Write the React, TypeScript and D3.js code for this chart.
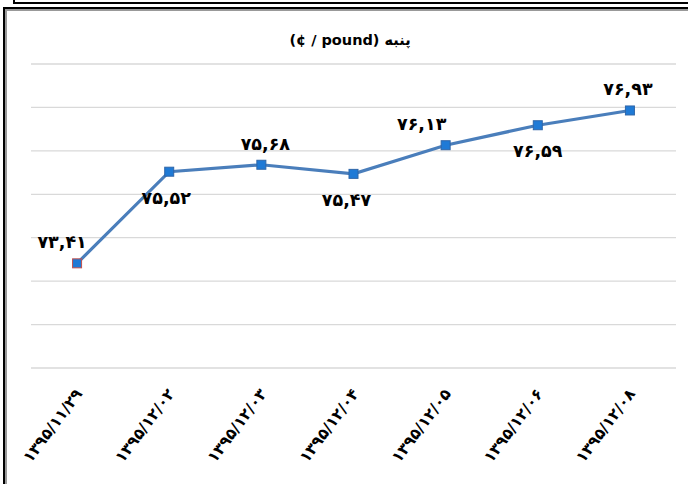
import * as d3 from "d3";

const dates = [
  "۱۳۹۵/۱۱/۲۹",
  "۱۳۹۵/۱۲/۰۲",
  "۱۳۹۵/۱۲/۰۳",
  "۱۳۹۵/۱۲/۰۴",
  "۱۳۹۵/۱۲/۰۵",
  "۱۳۹۵/۱۲/۰۶",
  "۱۳۹۵/۱۲/۰۸",
];
const prices = [73.41, 75.52, 75.68, 75.47, 76.13, 76.59, 76.93];
const priceLabels = ["۷۳,۴۱", "۷۵,۵۲", "۷۵,۶۸", "۷۵,۴۷", "۷۶,۱۳", "۷۶,۵۹", "۷۶,۹۳"];
const gridValues = [71, 72, 73, 74, 75, 76, 77, 78];

// label side for each point, as in the original
const labelSide = ["above", "below", "above", "below", "above", "below", "above"];
const labelShift = [-15, -3, 4, -7, -24, 0, -2];

const W = 688;
const H = 484;
const font = "'DejaVu Sans', sans-serif";

export default function App() {
  const x = d3
    .scalePoint<string>()
    .domain(dates)
    .range([31, 676])
    .padding(0.5);
  const y = d3.scaleLinear().domain([71, 78]).range([368, 64]);

  const line = d3
    .line<number>()
    .x((_, i) => x(dates[i])!)
    .y((d) => y(d));

  return (
    <svg
      width={W}
      height={H}
      style={{ position: "fixed", left: 0, top: 0, background: "#fff" }}
    >
      {/* frames */}
      <path d="M14,0 V3 H688" fill="none" stroke="#000" strokeWidth={2} />
      <path d="M5,484 V9 H688" fill="none" stroke="#999" strokeWidth={4} />
      <path d="M4,484 V8 H688" fill="none" stroke="#000" strokeWidth={2} />

      <text
        x={350}
        y={45}
        textAnchor="middle"
        fontFamily={font}
        fontWeight="bold"
        fontSize={14.5}
        fill="#000"
      >
        (¢ / pound) پنبه
      </text>

      {gridValues.map((v) => (
        <line
          key={v}
          x1={31}
          x2={676}
          y1={y(v)}
          y2={y(v)}
          stroke="#d9d9d9"
          strokeWidth={1.3}
        />
      ))}

      <path d={line(prices)!} fill="none" stroke="#4a7ebb" strokeWidth={3.2} />

      {prices.map((p, i) => (
        <rect
          key={i}
          x={x(dates[i])! - 4.5}
          y={y(p) - 4.5}
          width={9}
          height={9}
          fill="#1f7ad6"
          stroke={i === 0 ? "#c0504d" : "#2f66a8"}
          strokeWidth={1}
        />
      ))}

      {prices.map((p, i) => (
        <text
          key={i}
          x={x(dates[i])! + labelShift[i]}
          y={y(p) + (labelSide[i] === "above" ? -15 : 32)}
          textAnchor="middle"
          fontFamily={font}
          fontWeight="bold"
          fontSize={17.5}
          fill="#000"
        >
          {priceLabels[i]}
        </text>
      ))}

      {dates.map((d) => (
        <text
          key={d}
          transform={`translate(${x(d)! + 6},${394}) rotate(-53)`}
          textAnchor="end"
          fontFamily={font}
          fontWeight="bold"
          fontSize={15.5}
          fill="#000"
        >
          {d}
        </text>
      ))}
    </svg>
  );
}
